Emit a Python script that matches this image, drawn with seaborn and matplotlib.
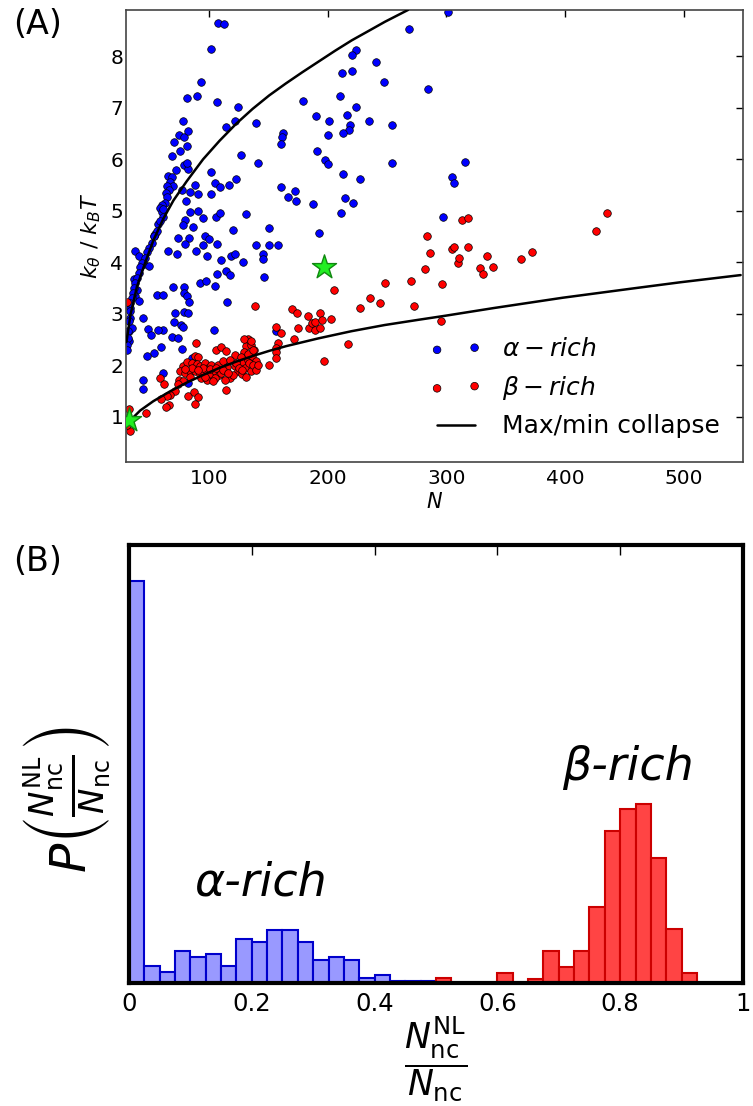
import matplotlib
matplotlib.use("Agg")
import matplotlib.pyplot as plt
from matplotlib.collections import PathCollection
from matplotlib.legend_handler import HandlerPathCollection
import seaborn as sns

sns.set_style("white")
plt.rcParams['font.family'] = ['DejaVu Sans']
plt.rcParams['mathtext.fontset'] = 'dejavusans'
plt.rcParams['text.color'] = 'black'
plt.rcParams['axes.labelcolor'] = 'black'
plt.rcParams['xtick.color'] = 'black'
plt.rcParams['ytick.color'] = 'black'

# ---- panel A: stiffness vs chain length ----
alpha_N = [107.8, 112.3, 102, 93.6, 81.1, 90, 106.7, 124.8, 77.8, 122.3, 114, 139.6,
           75, 79.1, 82.5, 70.5, 81.1, 75.5, 69.1, 127, 141, 79.1, 82.5, 72.2, 81.1,
           65.8, 68.6, 67.2, 70, 64.4, 66.3, 63.8, 64.4, 63, 60.2, 58.8, 60.2, 61, 57.4,
           54.6, 53.2, 77, 88, 83.9, 90.8, 80.3, 102, 104.8, 109, 102, 116.7, 122.9,
           83.9, 90.8, 94.5, 86.1, 79.7, 78.3, 106.2, 109, 131.2, 120.1, 74.1, 83.3,
           96.4, 100, 56, 58.3, 61.6,
           37.9, 40.7, 44.9, 49, 36.5, 39.3, 38, 40.7, 33.8, 33.8, 32.4, 32.4, 35.1,
           56, 61.6, 65.8, 79.7, 73.3, 88.9, 95, 98.4, 107, 109.8, 114, 117.3, 106.7,
           118.7, 122.3, 128.4, 139.6, 115, 92.2, 97.2, 104.8, 78.9, 78.9, 81.7, 83.3,
           70, 71.3, 78.9, 81.9, 70.5, 76.4, 78.3, 61.6, 57.4, 48.2, 44.3, 68.6, 74.1,
           76.9, 104, 51, 59.4, 53.3, 47.7, 61, 44.3, 44.3, 85.3, 82.5,
           53.2, 51.9, 49.1, 47.7, 46.3, 43.5, 42.1, 40.7, 39.3, 37.9, 36.5, 36, 35.1,
           33.8, 33.2, 32.4, 31.5, 31.5, 31, 31,
           268.5, 224, 220.3, 240.7, 212, 220.3, 247.6, 284.4, 179.4, 210, 223.7,
           190.3, 200.8, 216.1, 218.9, 218.1, 213.1, 200, 234.8, 254.6, 162.7, 161.3,
           160.5, 191.1, 197.5, 200.3, 254.6, 213.1, 227.3, 160.5, 172.4, 166.6, 173.5,
           187.5, 215, 221.2, 211.1, 150.7, 193,
           150.7, 158.5, 145.7, 145.7, 146.5, 156.8,
           301, 315.3, 304.4, 306.4, 297.5]
alpha_k = [8.64, 8.62, 8.15, 7.50, 7.19, 7.22, 7.12, 7.01, 6.74, 6.75, 6.62, 6.70,
           6.48, 6.44, 6.54, 6.33, 6.26, 6.16, 6.06, 6.09, 5.92, 5.88, 5.82, 5.79, 5.92,
           5.67, 5.65, 5.55, 5.49, 5.49, 5.40, 5.34, 5.26, 5.16, 5.12, 5.05, 4.97, 4.87, 4.74,
           4.54, 4.51, 5.40, 5.50, 5.36, 5.32, 5.19, 5.75, 5.53, 5.47, 5.32, 5.50, 5.62,
           4.97, 4.99, 4.86, 4.69, 4.82, 4.73, 4.88, 4.95, 4.93, 4.62, 4.47, 4.47,
           4.51, 4.45, 4.61, 4.80, 5.03,
           4.22, 4.12, 3.96, 3.93, 3.67, 3.47, 3.34, 3.25, 3.12, 2.92, 2.66, 2.47, 2.72,
           3.36, 3.36, 4.22, 4.36, 4.16, 4.21, 4.34, 4.12, 4.35, 4.04, 3.82, 3.75, 3.77,
           4.12, 4.16, 4.01, 4.34, 3.23, 3.60, 3.64, 3.54, 3.51, 3.41, 3.34, 3.23,
           3.52, 3.02, 3.04, 3.02, 2.84, 2.79, 2.75, 2.69, 2.68, 2.71, 2.91, 2.55, 2.53,
           2.32, 2.69, 2.58, 2.36, 2.24, 2.18, 1.85, 1.72, 1.53, 2.14, 1.65,
           4.51, 4.38, 4.28, 4.19, 4.09, 3.99, 3.90, 3.80, 3.70, 3.60, 3.50, 3.41, 3.31,
           3.21, 3.05, 2.86, 2.66, 2.53, 2.40, 2.30,
           8.53, 8.12, 8.03, 7.89, 7.68, 7.71, 7.50, 7.37, 7.13, 7.23, 7.01,
           6.84, 6.75, 6.86, 6.67, 6.57, 6.51, 6.47, 6.74, 6.66, 6.51, 6.43,
           6.30, 6.17, 5.99, 5.90, 5.92, 5.71, 5.62, 5.47, 5.38, 5.27, 5.19,
           5.14, 5.25, 5.15, 4.95, 4.67, 4.56,
           4.34, 4.34, 4.16, 4.06, 3.72, 2.66,
           8.86, 5.94, 5.65, 5.53, 4.87]

beta_N = [31, 88.9, 88.1, 90.8, 106.2, 110.3, 114.5, 121.5, 131.2, 132.6, 129.8, 135.4,
          138.2, 129.8, 127, 78.3, 81.1, 85.3, 75.5, 79.7, 83.9, 88.1, 89.5, 92.8, 96.4,
          99.2, 102, 96.4, 92.2, 100.6, 104.8, 107.6, 108.4, 111.7, 115.1, 117.3, 113.1,
          110.3, 104.8, 98.4, 93.6, 121.5, 124.3, 126.2, 129, 132.6, 136.2, 139.6, 130.7,
          135.4, 127.9, 131.2, 114, 75, 77.8, 74.1, 71.3, 67.2, 64.4, 59.4, 66.6, 63.8,
          58.8, 62.4, 82.5, 87.2, 90.8, 88.1, 47.1, 33.2, 31, 32.3,
          95, 101, 106, 118, 120, 123, 125, 133, 134, 137, 86, 91, 97, 103, 112, 116,
          128, 140, 141, 84, 80,
          138.7, 170.2, 174.4, 183.6, 193.9, 203, 156.3, 160.5, 175.2, 184.1, 186.9,
          189.7, 189.1, 193.9, 195.3, 171.6, 158.5, 156.8, 156.3, 156.3, 150.7, 217,
          196.7, 205, 227.3, 235.6, 244, 248.7, 269.9, 272.7, 281.6, 283.5, 135.4, 136.8,
          286.3, 296.1, 295.5, 304.4, 306.6, 309.4, 310.3, 313.1, 318.3, 318.3, 328.1,
          331.2, 334.2, 339.2, 362.9, 371.8, 426.4, 435.6]
beta_k = [3.23, 2.43, 2.17, 2.15, 2.30, 2.35, 2.27, 2.19, 2.37, 2.50, 2.50, 2.40,
          2.29, 2.26, 2.15, 1.98, 2.06, 2.05, 1.88, 1.85, 1.89, 1.88, 2.03, 1.98, 2.04,
          1.95, 2.01, 1.88, 1.82, 1.82, 1.89, 2.01, 1.80, 2.08, 1.96, 1.75, 1.72,
          1.85, 1.75, 1.72, 1.75, 1.98, 1.88, 2.03, 2.05, 2.11, 2.17, 2.08, 1.95,
          1.89, 1.82, 1.77, 1.51, 1.72, 1.70, 1.64, 1.49, 1.43, 1.40, 1.34, 1.23, 1.18,
          1.75, 1.64, 1.40, 1.47, 1.38, 1.25, 1.07, 0.73, 0.84, 1.14,
          1.95, 1.92, 1.95, 2.10, 1.80, 2.05, 1.95, 2.22, 2.05, 2.00, 1.95, 1.90, 1.78,
          1.70, 1.90, 1.85, 1.90, 1.90, 2.00, 1.78, 1.92,
          3.14, 3.10, 3.01, 2.95, 3.01, 2.90, 2.74, 2.63, 2.73, 2.73, 2.82,
          2.84, 2.68, 2.73, 2.87, 2.50, 2.43, 2.34, 2.26, 2.14, 2.01, 2.42,
          2.08, 3.47, 3.12, 3.31, 3.21, 3.60, 3.64, 3.14, 3.86, 4.51, 2.47, 2.30,
          4.17, 3.58, 2.86, 4.25, 4.29, 3.98, 4.09, 4.82, 4.86, 4.29, 3.88,
          3.78, 4.12, 3.90, 4.06, 4.19, 4.60, 4.95]

# max / min collapse curves
upper_N = [30.4, 33.8, 39.3, 46.3, 53.2, 61.6, 70, 81.1, 95, 108.9, 122.9, 136.8, 150.7,
           164.6, 178.6, 192.5, 206.4, 220.3, 234.3, 248.2, 267.7]
upper_k = [2.45, 2.98, 3.53, 4.0, 4.43, 4.85, 5.20, 5.57, 6.0, 6.36, 6.69, 6.98, 7.24,
           7.47, 7.69, 7.90, 8.11, 8.31, 8.49, 8.67, 8.90]
lower_N = [30.4, 32.4, 42, 53, 67, 81, 95, 109, 123, 137, 151, 165, 192, 220, 248, 276,
           299, 340, 398, 457, 497, 548]
lower_k = [0.85, 0.90, 1.12, 1.30, 1.49, 1.66, 1.81, 1.95, 2.07, 2.18, 2.28, 2.37, 2.52,
           2.66, 2.78, 2.88, 2.96, 3.11, 3.31, 3.49, 3.61, 3.75]

star_N = [32.5, 196.7]
star_k = [0.94, 3.90]

# ---- panel B: histogram of non-local contact fraction ----
blue_centres = [0.0125, 0.0375, 0.0625, 0.0875, 0.1125, 0.1375, 0.1625, 0.1875, 0.2125,
                0.2375, 0.2625, 0.2875, 0.3125, 0.3375, 0.3625, 0.3875, 0.4125, 0.4375,
                0.4625, 0.4875, 0.5125]
blue_heights = [12.07, 0.52, 0.33, 0.96, 0.79, 0.88, 0.52, 1.33, 1.23, 1.60, 1.60, 1.23,
                0.69, 0.79, 0.69, 0.16, 0.25, 0.08, 0.08, 0.08, 0.08]
red_centres = [0.5125, 0.6125, 0.6625, 0.6875, 0.7125, 0.7375, 0.7625, 0.7875, 0.8125,
               0.8375, 0.8625, 0.8875, 0.9125]
red_heights = [0.15, 0.32, 0.14, 0.97, 0.48, 0.97, 2.28, 4.57, 5.22, 5.38, 3.75, 1.63, 0.32]

frac_ticks = [0, 0.2, 0.4, 0.6, 0.8, 1]
frac_labels = ['0', '0.2', '0.4', '0.6', '0.8', '1']

fig = plt.figure(figsize=(7.53, 11.06), dpi=100)

ax1 = fig.add_axes([0.1673, 0.5823, 0.8194, 0.4087])
sns.scatterplot(x=alpha_N, y=alpha_k, color='#0000ff', edgecolor='black', linewidth=0.5,
                s=30, ax=ax1, legend=False, zorder=2)
sns.scatterplot(x=beta_N, y=beta_k, color='#ff0000', edgecolor='black', linewidth=0.5,
                s=30, ax=ax1, legend=False, zorder=2)
sns.lineplot(x=upper_N, y=upper_k, color='black', linewidth=1.8, errorbar=None, ax=ax1,
             legend=False, zorder=3)
sns.lineplot(x=lower_N, y=lower_k, color='black', linewidth=1.8, errorbar=None, ax=ax1,
             legend=False, zorder=3)
sns.scatterplot(x=star_N, y=star_k, marker='*', s=330, color='#22ee22', edgecolor='#118811',
                linewidth=1, ax=ax1, legend=False, zorder=4)

handles = [ax1.collections[0], ax1.collections[1], ax1.lines[0]]
ax1.legend(handles, [r'$\alpha-rich$', r'$\beta-rich$', 'Max/min collapse'],
           loc='lower left', bbox_to_anchor=(0.488, 0.03), frameon=False, fontsize=18,
           scatterpoints=2, handlelength=1.5, handletextpad=1.1, labelspacing=0.5,
           borderaxespad=0, borderpad=0.4,
           handler_map={PathCollection: HandlerPathCollection(marker_pad=0)})

ax1.set_xlim(30, 550)
ax1.set_ylim(0.12, 8.9)
ax1.set_xticks([100, 200, 300, 400, 500])
ax1.set_yticks(range(1, 9))
ax1.tick_params(direction='in', top=True, right=True, length=5, width=1, labelsize=14.5)
ax1.tick_params(axis='y', pad=2)
ax1.tick_params(axis='x', pad=5)
for sp in ax1.spines.values():
    sp.set_color('#444444')
    sp.set_linewidth(1.2)
ax1.set_xlabel('$N$', fontsize=15, labelpad=3)
ax1.set_ylabel(r'$k_\theta\ /\ k_BT$', fontsize=16)
ax1.yaxis.set_label_coords(-0.037, 0.5)

ax2 = fig.add_axes([0.1713, 0.1108, 0.8154, 0.3965])
sns.histplot(x=blue_centres, weights=blue_heights, binwidth=0.025, binrange=(0, 0.525),
             color='#9999ff', edgecolor='#0000cc', linewidth=1.5, alpha=1, ax=ax2)
sns.histplot(x=red_centres, weights=red_heights, binwidth=0.025, binrange=(0.5, 0.925),
             color='#ff4444', edgecolor='#cc0000', linewidth=1.5, alpha=1, ax=ax2)
ax2.set_xlim(0, 1)
ax2.set_ylim(0, 13.15)
ax2.set_yticks([])
ax2.set_xticks(frac_ticks)
ax2.set_xticklabels(frac_labels)
ax2.tick_params(axis='x', direction='in', top=True, length=7, width=1, labelsize=17.5, pad=6)
for sp in ax2.spines.values():
    sp.set_color('black')
    sp.set_linewidth(3)
ax2.set_xlabel(r'$\dfrac{N_{\rm nc}^{\rm NL}}{N_{\rm nc}}$', fontsize=25)
ax2.xaxis.set_label_coords(0.5, -0.072)
ax2.xaxis.label.set_va('top')
ax2.set_ylabel(r'$P\left(\frac{N_{\rm nc}^{\rm NL}}{N_{\rm nc}}\right)$', fontsize=35)
ax2.yaxis.set_label_coords(-0.026, 0.42)
ax2.text(0.107, 0.20, 'α-rich', transform=ax2.transAxes, fontsize=33, style='italic')
ax2.text(0.705, 0.464, 'β-rich', transform=ax2.transAxes, fontsize=33, style='italic')

fig.text(13 / 753, 1 - 8 / 1106, '(A)', fontsize=24, va='top', ha='left')
fig.text(13 / 753, 1 - 545 / 1106, '(B)', fontsize=24, va='top', ha='left')

fig.savefig('out.png', dpi=100)
